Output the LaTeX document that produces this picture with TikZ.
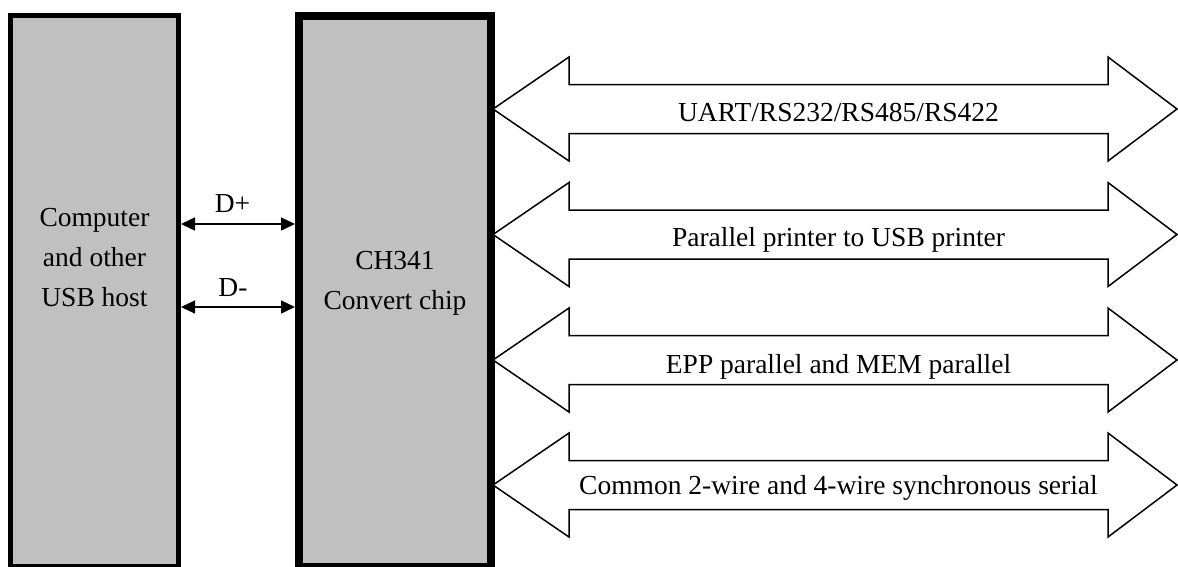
\documentclass[tikz,border=0pt]{standalone}
\usepackage{fontspec}
\setmainfont{Liberation Serif}
\usetikzlibrary{arrows.meta}
\definecolor{boxgray}{RGB}{192,192,192}
\newcommand\busarrow[4]{%
  \draw[busarrow] (493,#2) -- (569,#2-52) -- (569,#2-24.5) -- (1108,#2-24.5) -- (1108,#2-52) -- (1177,#2)
    -- (1108,#2+52) -- (1108,#2+24.5) -- (569,#2+24.5) -- (569,#2+52) -- cycle;
  \node[lbl, anchor=base] (#1) at (838.5,#2+#3) {#4};}
\begin{document}
\begin{tikzpicture}[x=1pt,y=-1pt,
  hostbox/.style={draw=black, fill=boxgray, line width=5.3pt, minimum width=167.7pt, minimum height=551pt, inner sep=0pt},
  chipbox/.style={draw=black, fill=boxgray, line width=8pt, minimum width=192pt, minimum height=551pt, inner sep=0pt},
  lbl/.style={font=\fontsize{27.5}{40}\selectfont, align=center, inner sep=0pt},
  usbline/.style={line width=1.5pt, {Triangle[length=14pt,width=13pt]}-{Triangle[length=14pt,width=13pt]}},
  busarrow/.style={draw=black, fill=white, line width=1.5pt, line join=miter}
]
\clip (0,0) rectangle (1178,566);
\fill[white] (0,0) rectangle (1178,566);
\node[hostbox] (host) at (94.5,291.2) {};
\node[chipbox] (chip) at (395,291.5) {};
\node[lbl] (hosttext) at (94.5,258) {Computer\\and other\\USB host};
\node[lbl] (chiptext) at (395,283) {CH341\\Convert chip};
\draw[usbline] (host.east |- 0,224) -- (chip.west |- 0,224);
\draw[usbline] (host.east |- 0,307) -- (chip.west |- 0,307);
\node[lbl] (dplus) at (232.5,204) {D+};
\node[lbl] (dminus) at (233,288) {D-};
\busarrow{uart}{109}{12}{UART/RS232/RS485/RS422}
\busarrow{printer}{234.5}{12}{Parallel printer to USB printer}
\busarrow{epp}{360}{13}{EPP parallel and MEM parallel}
\busarrow{sync}{485}{9}{Common 2-wire and 4-wire synchronous serial}
\end{tikzpicture}
\end{document}
